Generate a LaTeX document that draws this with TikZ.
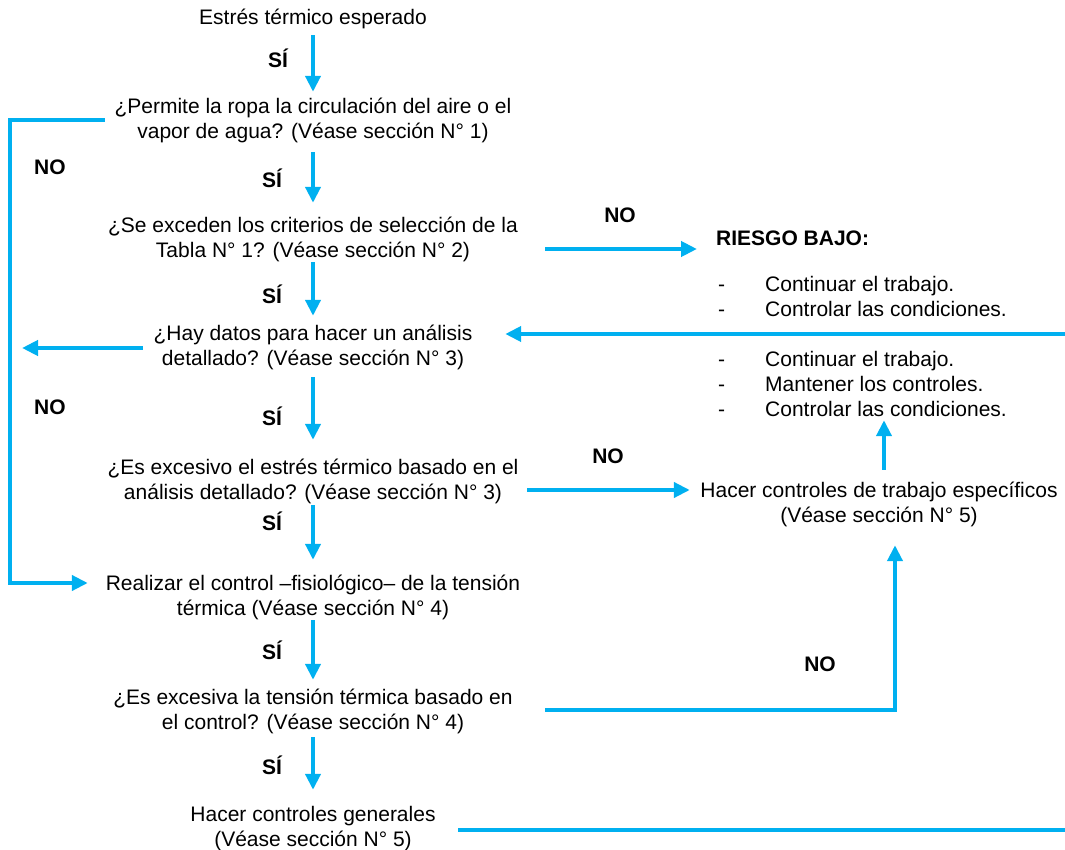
\documentclass[tikz,border=0pt]{standalone}
\usepackage{fontspec}
\setmainfont{Liberation Sans}
\usetikzlibrary{arrows.meta}
\definecolor{flow}{HTML}{00B0F0}
% centred block of lines whose baseline is that of its first line
\newcommand{\fcell}[1]{\begin{tabular}[t]{@{}c@{}}#1\end{tabular}}
% bulleted list with hyphens
\newcommand{\dlist}[1]{\begin{tabular}[t]{@{}l@{\hspace{40pt}}l@{}}#1\end{tabular}}
\begin{document}
\begin{tikzpicture}[x=1pt,y=-1pt,
  every node/.style={inner sep=0pt, font=\fontsize{21}{25}\selectfont},
  box/.style={anchor=base},
  lbl/.style={anchor=base, font=\fontsize{21}{25}\selectfont\bfseries},
  link/.style={draw=flow, line width=4pt},
  arr/.style={link, -{Triangle[length=16pt,width=15pt]}}]
\useasboundingbox (0,0) rectangle (1065,850);

% main column
\node[box] (n1) at (313,25) {\fcell{Estrés térmico esperado}};
\node[box] (n2) at (313,114) {\fcell{¿Permite la ropa la circulación del aire o el\\vapor de agua? (Véase sección N° 1)}};
\node[box] (n3) at (313,233) {\fcell{¿Se exceden los criterios de selección de la\\Tabla N° 1? (Véase sección N° 2)}};
\node[box] (n4) at (313,340) {\fcell{¿Hay datos para hacer un análisis\\detallado? (Véase sección N° 3)}};
\node[box] (n5) at (313,474) {\fcell{¿Es excesivo el estrés térmico basado en el\\análisis detallado? (Véase sección N° 3)}};
\node[box] (n6) at (313,590) {\fcell{Realizar el control –fisiológico– de la tensión\\térmica (Véase sección N° 4)}};
\node[box] (n7) at (313,704) {\fcell{¿Es excesiva la tensión térmica basado en\\el control? (Véase sección N° 4)}};
\node[box] (n8) at (313,821) {\fcell{Hacer controles generales\\(Véase sección N° 5)}};

% right column
\node[anchor=base west, font=\fontsize{21}{25}\selectfont\bfseries] (rb) at (716,246) {RIESGO BAJO:};
\node[anchor=base west] (l1) at (718,291) {\dlist{-&Continuar el trabajo.\\-&Controlar las condiciones.}};
\node[anchor=base west] (l2) at (718,366) {\dlist{-&Continuar el trabajo.\\-&Mantener los controles.\\-&Controlar las condiciones.}};
\node[box] (hc) at (879,497) {\fcell{Hacer controles de trabajo específicos\\(Véase sección N° 5)}};

% answer labels
\node[lbl] (s1) at (278,68) {SÍ};
\node[lbl] (s2) at (272,188) {SÍ};
\node[lbl] (s3) at (272,303) {SÍ};
\node[lbl] (s4) at (272,425) {SÍ};
\node[lbl] (s5) at (272,530) {SÍ};
\node[lbl] (s6) at (272,659) {SÍ};
\node[lbl] (s7) at (272,774) {SÍ};
\node[lbl] (no1) at (50,175) {NO};
\node[lbl] (no2) at (50,414) {NO};
\node[lbl] (no3) at (620,223) {NO};
\node[lbl] (no4) at (608,463) {NO};
\node[lbl] (no5) at (820,671) {NO};

% downward flow
\draw[arr, shorten <=2.5pt, shorten >=4.5pt] (n1.south) -- (n2.north);
\draw[arr, shorten <=5.5pt, shorten >=12.5pt] (n2.south) -- (n3.north);
\draw[arr, shorten <=-3.5pt, shorten >=6.5pt] (n3.south) -- (n4.north);
\draw[arr, shorten <=4.5pt, shorten >=16.5pt] (n4.south) -- (n5.north);
\draw[arr, shorten <=-1.5pt, shorten >=12.5pt] (n5.south) -- (n6.north);
\draw[arr, shorten <=-2.5pt, shorten >=6.5pt] (n6.south) -- (n7.north);
\draw[arr, shorten <=0.5pt, shorten >=13.5pt] (n7.south) -- (n8.north);

% left loop from the clothing question to physiological control
\coordinate (lt) at (10,120);
\coordinate (lb) at (10,583);
\draw[arr, shorten <=9.6pt, shorten >=17.8pt] (n2.west |- lt) -- (lt) -- (lb) -- (lb -| n6.west);

% no data for detailed analysis
\coordinate (pl) at (22,348);
\draw[arr, shorten <=10.7pt] (n4.west |- pl) -- (pl);

% screening criteria not exceeded
\coordinate (p3) at (545,249);
\draw[arr, shorten >=19pt] (p3) -- (p3 -| rb.west);

% return from the right edge
\coordinate (pr) at (1065,334);
\draw[arr, shorten >=32.7pt] (pr) -- (pr -| n4.east);

% detailed analysis not excessive
\coordinate (p5) at (527,490);
\draw[arr, shorten >=10.4pt] (p5) -- (p5 -| hc.west);

% specific controls lead to continued work
\draw[arr, shorten <=9.5pt, shorten >=-3.5pt] ([xshift=5pt]hc.north) -- ([xshift=5pt]hc.north |- l2.south);

% strain not excessive
\coordinate (p7) at (545,710);
\coordinate (k7) at (895,710);
\draw[arr, shorten >=15.5pt] (p7) -- (k7) -- (k7 |- hc.south);

% general controls
\coordinate (pb) at (1065,830);
\draw[link, shorten <=22.5pt] (n8.east |- pb) -- (pb);
\end{tikzpicture}
\end{document}
